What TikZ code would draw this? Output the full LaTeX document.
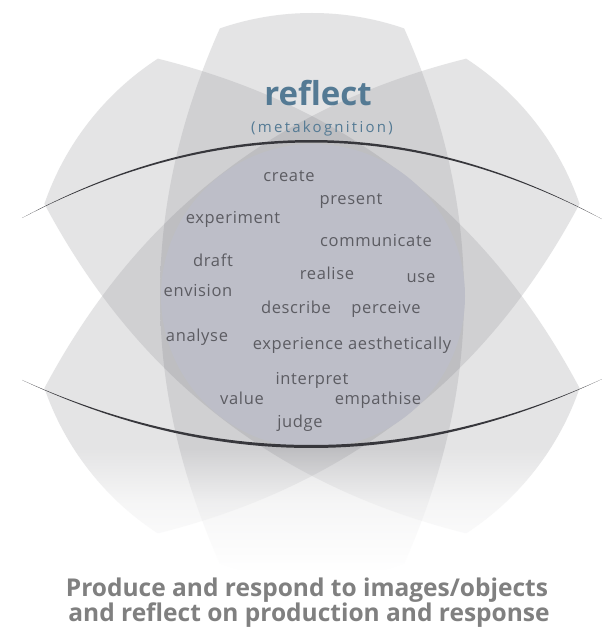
\documentclass[tikz,border=0pt]{standalone}
\usepackage{fontspec}
\setmainfont{Open Sans}
\newfontfamily\wordfont[LetterSpace=4]{Open Sans}
\newfontfamily\metafont[LetterSpace=15]{Open Sans}
\definecolor{reflectblue}{RGB}{84,122,148}
\definecolor{wordgray}{RGB}{92,92,98}
\definecolor{captiongray}{RGB}{128,128,128}
\definecolor{discgray}{RGB}{189,190,200}
\definecolor{curvegray}{RGB}{55,55,60}
\definecolor{petalone}{RGB}{228,228,229}
\definecolor{petaltwo}{RGB}{208,208,210}
\definecolor{petalthree}{RGB}{190,190,193}
% grey at the top, white towards the bottom of the page
\pgfdeclareverticalshading{fadeone}{100bp}{color(0bp)=(white); color(29.7bp)=(white); color(35.3bp)=(petalone!35!white); color(39.6bp)=(petalone); color(100bp)=(petalone)}
\pgfdeclareverticalshading{fadetwo}{100bp}{color(0bp)=(white); color(29.7bp)=(white); color(35.3bp)=(petaltwo!35!white); color(39.6bp)=(petaltwo); color(100bp)=(petaltwo)}
\pgfdeclareverticalshading{fadethree}{100bp}{color(0bp)=(white); color(29.7bp)=(white); color(35.3bp)=(petalthree!35!white); color(39.6bp)=(petalthree); color(100bp)=(petalthree)}
% one petal round (312,337), turned by #1
\newcommand{\petalclip}[1]{%
	\clip[shift={(312,337)}, rotate=#1] (71:283) arc[start angle=71, end angle=109, radius=283]
		.. controls (-140,160) and (-152,70) .. (-152,0) .. controls (-152,-70) and (-140,-160) .. (-109:283)
		arc[start angle=-109, end angle=-71, radius=283]
		.. controls (140,-160) and (152,-70) .. (152,0) .. controls (152,70) and (140,160) .. cycle;}
\begin{document}
\begin{tikzpicture}[x=1pt, y=1pt, line join=round]
	\tikzset{word/.style={anchor=base, inner sep=0pt, text=wordgray, font=\wordfont\fontsize{16.5}{18}\selectfont},
		caption/.style={anchor=base, inner sep=0pt, text=captiongray, font=\bfseries\fontsize{24.5}{28}\selectfont}}
	\fill[white] (0,0) rectangle (602,633);
	% petals, their overlaps in pairs, and all three
	\foreach \a in {0,52,-52}{
		\begin{scope}
			\petalclip{\a}
			\shade[shading=fadeone] (0,0) rectangle (602,633);
		\end{scope}}
	\foreach \a/\b in {0/52,0/-52,52/-52}{
		\begin{scope}
			\petalclip{\a}
			\petalclip{\b}
			\shade[shading=fadetwo] (0,0) rectangle (602,633);
		\end{scope}}
	\begin{scope}
		\petalclip{0}
		\petalclip{52}
		\petalclip{-52}
		\shade[shading=fadethree] (0,0) rectangle (602,633);
	\end{scope}
	\fill[discgray] (313,337) circle[radius=152];
	% the two thin arcs
	\fill[curvegray] plot[domain=22:602, samples=60] (\x, {493-78*((\x-311)/289)^2})
		-- plot[domain=602:22, samples=60] (\x, {490.5-75.5*((\x-311)/289)^2}) -- cycle;
	\fill[curvegray] plot[domain=22:602, samples=60] (\x, {185+68*((\x-311)/289)^2})
		-- plot[domain=602:22, samples=60] (\x, {188+65*((\x-311)/289)^2}) -- cycle;
	\node[anchor=base, text=reflectblue, font=\bfseries\fontsize{33}{36}\selectfont] (reflect) at (318,527) {reflect};
	\node[anchor=base, text=reflectblue, font=\metafont\fontsize{15}{18}\selectfont] (meta) at (322,500) {(metakognition)};
	\node[word] (create) at (289,451) {create};
	\node[word] (present) at (351,428) {present};
	\node[word] (experiment) at (233,409) {experiment};
	\node[word] (communicate) at (376,386) {communicate};
	\node[word] (draft) at (213,366) {draft};
	\node[word] (realise) at (327,353) {realise};
	\node[word] (use) at (421,350) {use};
	\node[word] (envision) at (198,336) {envision};
	\node[word] (describe) at (296,319) {describe};
	\node[word] (perceive) at (386,319) {perceive};
	\node[word] (analyse) at (197,291) {analyse};
	\node[word] (aesthetic) at (352,283) {experience aesthetically};
	\node[word] (interpret) at (312,248) {interpret};
	\node[word] (value) at (242,228) {value};
	\node[word] (empathise) at (378,228) {empathise};
	\node[word] (judge) at (300,205) {judge};
	\node[caption] (produce) at (307,37) {Produce and respond to images/objects};
	\node[caption] (response) at (309,12) {and reflect on production and response};
\end{tikzpicture}
\end{document}
